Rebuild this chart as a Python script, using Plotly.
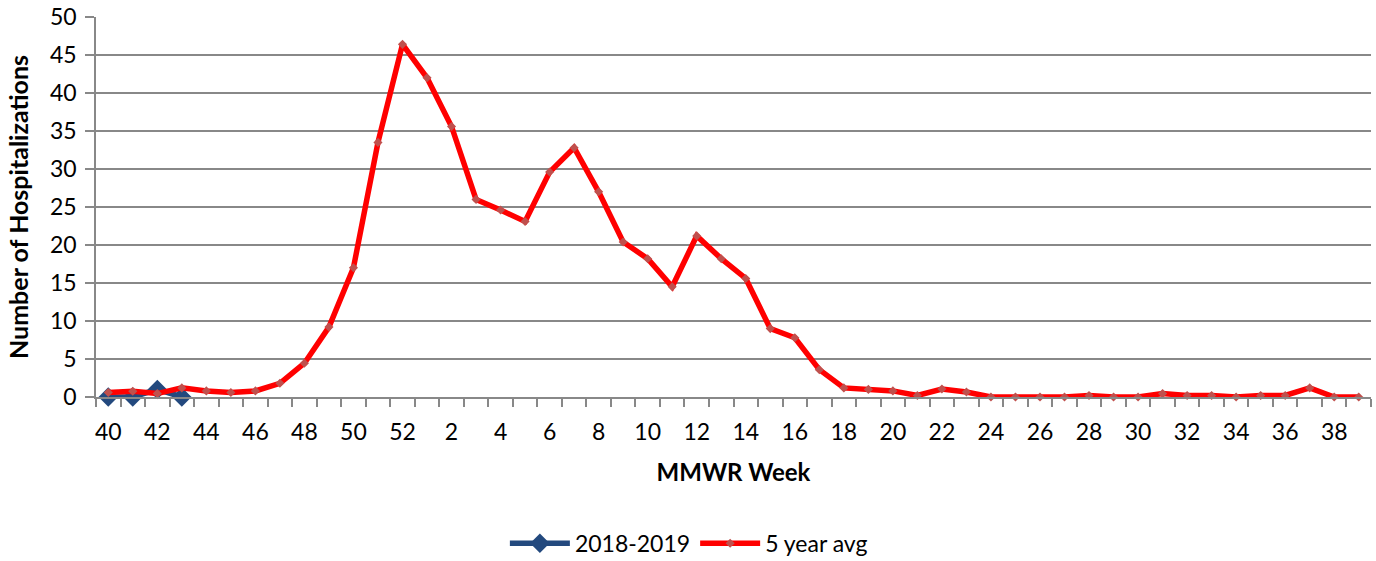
import plotly.graph_objects as go

weeks = [str(w) for w in list(range(40, 53)) + list(range(1, 40))]
avg5 = [0.6, 0.75, 0.45, 1.2, 0.8, 0.6, 0.8, 1.8, 4.45, 9.2, 17.0, 33.5, 46.4,
        42.0, 35.6, 26.0, 24.6, 23.1, 29.6, 32.8, 27.0, 20.4, 18.2, 14.5, 21.2,
        18.2, 15.6, 9.0, 7.8, 3.6, 1.2, 1.0, 0.8, 0.2, 1.05, 0.65, 0.0, 0.0,
        0.0, 0.0, 0.2, 0.0, 0.0, 0.45, 0.2, 0.2, 0.0, 0.2, 0.2, 1.2, 0.0, 0.0]
season = [0, 0, 1, 0]
tick_labels = weeks[::2]

idx = list(range(len(weeks)))
FONT = "Lato"

fig = go.Figure()
fig.add_trace(go.Scatter(
    x=idx[:len(season)], y=season, name="2018-2019", mode="lines+markers",
    line=dict(color="#23497E", width=5.5), cliponaxis=False,
    marker=dict(symbol="diamond", size=15, color="#23497E")))
fig.add_trace(go.Scatter(
    x=idx, y=avg5, name="5 year avg", mode="lines+markers",
    line=dict(color="#FF0000", width=5.5), cliponaxis=False,
    marker=dict(symbol="diamond", size=7, color="#C0504D")))

fig.update_layout(
    width=1376, height=561,
    margin=dict(l=96, r=5, t=17, b=164, autoexpand=False),
    plot_bgcolor="white", paper_bgcolor="white",
    font=dict(family=FONT, size=23, color="black"),
    showlegend=True,
    legend=dict(orientation="h", x=0.465, xanchor="center", y=-0.385, yanchor="middle",
                font=dict(size=23), itemwidth=60),
    xaxis=dict(
        range=[-0.5, len(weeks) - 0.5], automargin=False,
        tickmode="array", tickvals=idx[::2], ticktext=tick_labels,
        ticks="", showgrid=False, showline=True, linecolor="#888888", linewidth=1.5,
        zeroline=False, tickfont=dict(size=23), ticklabelstandoff=14,
        minor=dict(tickmode="array", tickvals=[i - 0.5 for i in range(len(weeks) + 1)],
                   ticks="outside", ticklen=8, tickcolor="#888888", tickwidth=1.5, showgrid=False),
        title=dict(text="<b>MMWR Week</b>", font=dict(size=24), standoff=20),
    ),
    yaxis=dict(
        range=[0, 50], tickmode="linear", tick0=0, dtick=5, automargin=False,
        showgrid=True, gridcolor="#888888", gridwidth=1.5,
        ticks="outside", ticklen=9, tickcolor="#888888", tickwidth=1.5,
        showline=True, linecolor="#888888", linewidth=1.5, zeroline=False,
        tickfont=dict(size=23), ticklabelstandoff=4,
        title=dict(text="<b>Number of Hospitalizations</b>", font=dict(size=25), standoff=14),
    ),
)

fig.write_html("out.html", config={"displayModeBar": False},
               post_script="document.body.style.margin='0';")
